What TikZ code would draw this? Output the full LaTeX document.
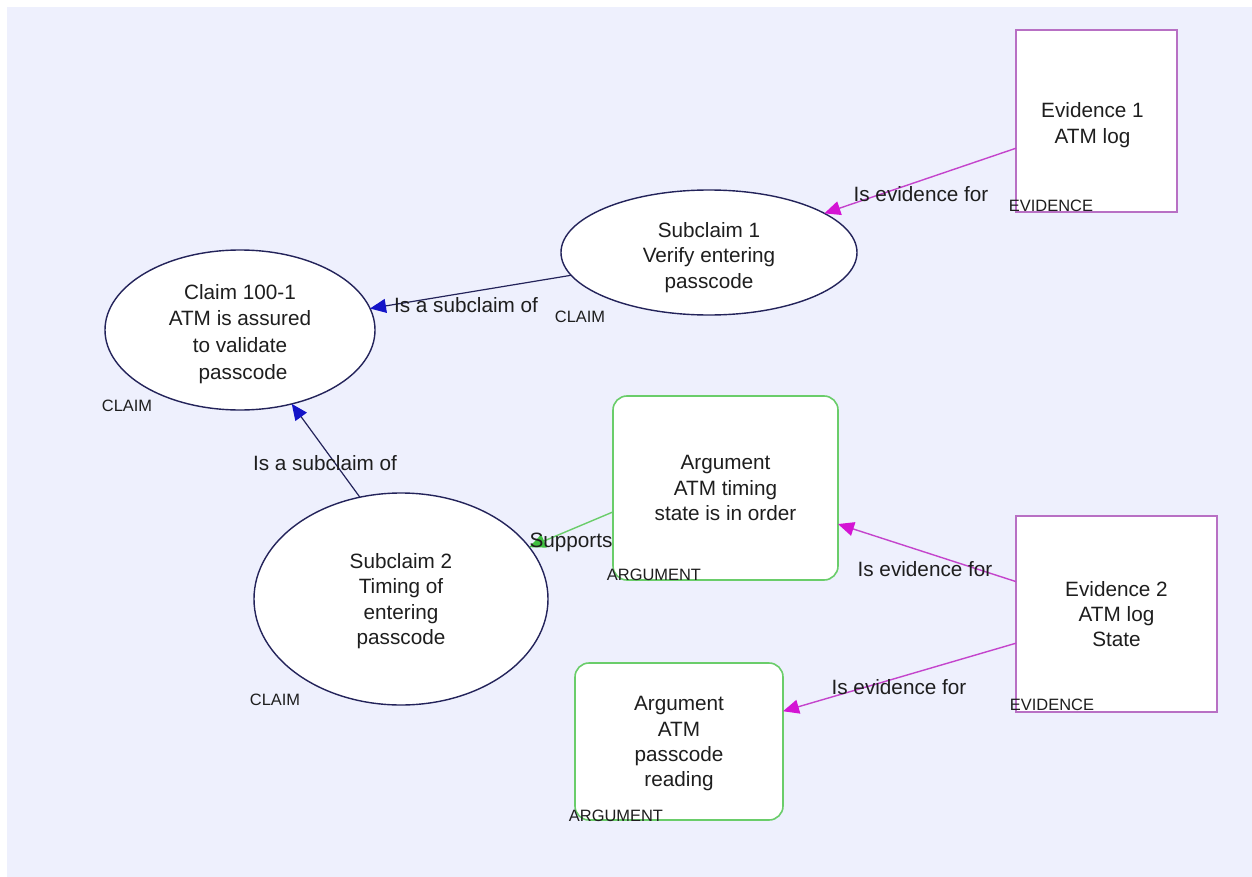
\documentclass[tikz,border=0pt]{standalone}
\usepackage{fontspec}
\setmainfont{Liberation Sans}
\usetikzlibrary{shapes.geometric,arrows.meta}
\definecolor{bg}{HTML}{EEF0FD}
\definecolor{navy}{HTML}{23235A}
\definecolor{tipblue}{HTML}{1414C8}
\definecolor{evline}{HTML}{C444CC}
\definecolor{evtip}{HTML}{D414D4}
\definecolor{evborder}{HTML}{B870C4}
\definecolor{argborder}{HTML}{6ACD6A}
\definecolor{argtip}{HTML}{40C040}
\definecolor{txt}{HTML}{1E1E1E}
\begin{document}
\begin{tikzpicture}[x=1bp,y=-1bp,
  every node/.style={font=\fontsize{20.8}{25.5}\selectfont, text=txt},
  claimnode/.style={ellipse, draw=navy, line width=1.4bp, fill=white, inner sep=0pt, outer sep=0pt, align=center},
  evnode/.style={rectangle, draw=evborder, line width=2bp, fill=white, inner sep=0pt, outer sep=0pt, align=center},
  argnode/.style={rectangle, rounded corners=14bp, draw=argborder, line width=1.6bp, fill=white, inner sep=0pt, outer sep=0pt, align=center},
  typelbl/.style={font=\fontsize{16.5}{18}\selectfont, inner sep=0pt},
  edgelbl/.style={inner sep=0pt},
  subarrow/.style={draw=navy, line width=1.2bp, -{Triangle[length=16bp,width=14bp,color=tipblue,fill=tipblue]}},
  evarrow/.style={draw=evline, line width=1.4bp, -{Triangle[length=16bp,width=14bp,color=evtip,fill=evtip]}},
  suparrow/.style={draw=argborder, line width=1.4bp, -{Triangle[length=16bp,width=14bp,color=argtip,fill=argtip]}}
]
\useasboundingbox (0,0) rectangle (1252,877);
\fill[bg] (7,7) rectangle (1252,877);

% nodes
\node[claimnode, minimum width=270bp, minimum height=160bp, font=\fontsize{20.8}{27}\selectfont] (claim) at (240,330)
  {\rule{0pt}{23bp}Claim 100-1\\ATM is assured\\to validate\\\hspace{6bp}passcode};
\node[claimnode, minimum width=296bp, minimum height=125bp] (sc1) at (709,252.5)
  {\rule{0pt}{25bp}Subclaim 1\\Verify entering\\passcode};
\node[claimnode, minimum width=294bp, minimum height=212bp] (sc2) at (401,599)
  {\rule{0pt}{19bp}Subclaim 2\\Timing of\\entering\\passcode};
\node[evnode, minimum width=161bp, minimum height=182bp] (ev1) at (1096.5,121)
  {\rule{0pt}{23bp}\hspace{-8bp}Evidence 1\\\hspace{-8bp}ATM log};
\node[evnode, minimum width=201bp, minimum height=196bp] (ev2) at (1116.5,614)
  {Evidence 2\\ATM log\\State};
\node[argnode, minimum width=225bp, minimum height=184bp] (arg1) at (725.5,488)
  {Argument\\ATM timing\\state is in order};
\node[argnode, minimum width=208bp, minimum height=157bp] (arg2) at (679,741.5)
  {\rule{0pt}{19bp}Argument\\ATM\\passcode\\reading};

% type labels
\node[typelbl] (tclaim) at (127,406) {CLAIM};
\node[typelbl] (tsc1) at (580,317) {CLAIM};
\node[typelbl] (tsc2) at (275,700) {CLAIM};
\node[typelbl] (tev1) at (1051,206) {EVIDENCE};
\node[typelbl] (tev2) at (1052,705) {EVIDENCE};
\node[typelbl] (targ1) at (654,575) {ARGUMENT};
\node[typelbl] (targ2) at (616,816) {ARGUMENT};

% connectors
\draw[subarrow] (sc1) -- (claim);
\draw[subarrow] (sc2.112.5) -- (claim.-55);
\draw[evarrow] (ev1) -- (sc1);
\draw[suparrow] (arg1.192.5) -- (sc2.22);
\draw[evarrow] (ev2) -- (arg1);
\draw[evarrow] (ev2) -- (arg2);

% connector labels
\node[edgelbl] (la) at (466,305) {Is a subclaim of};
\node[edgelbl] (lb) at (325,463) {Is a subclaim of};
\node[edgelbl] (lc) at (921,194) {Is evidence for};
\node[edgelbl] (ld) at (571,542) {Supports};
\node[edgelbl] (le) at (925,569) {Is evidence for};
\node[edgelbl] (lf) at (899,687) {Is evidence for};
\end{tikzpicture}
\end{document}
